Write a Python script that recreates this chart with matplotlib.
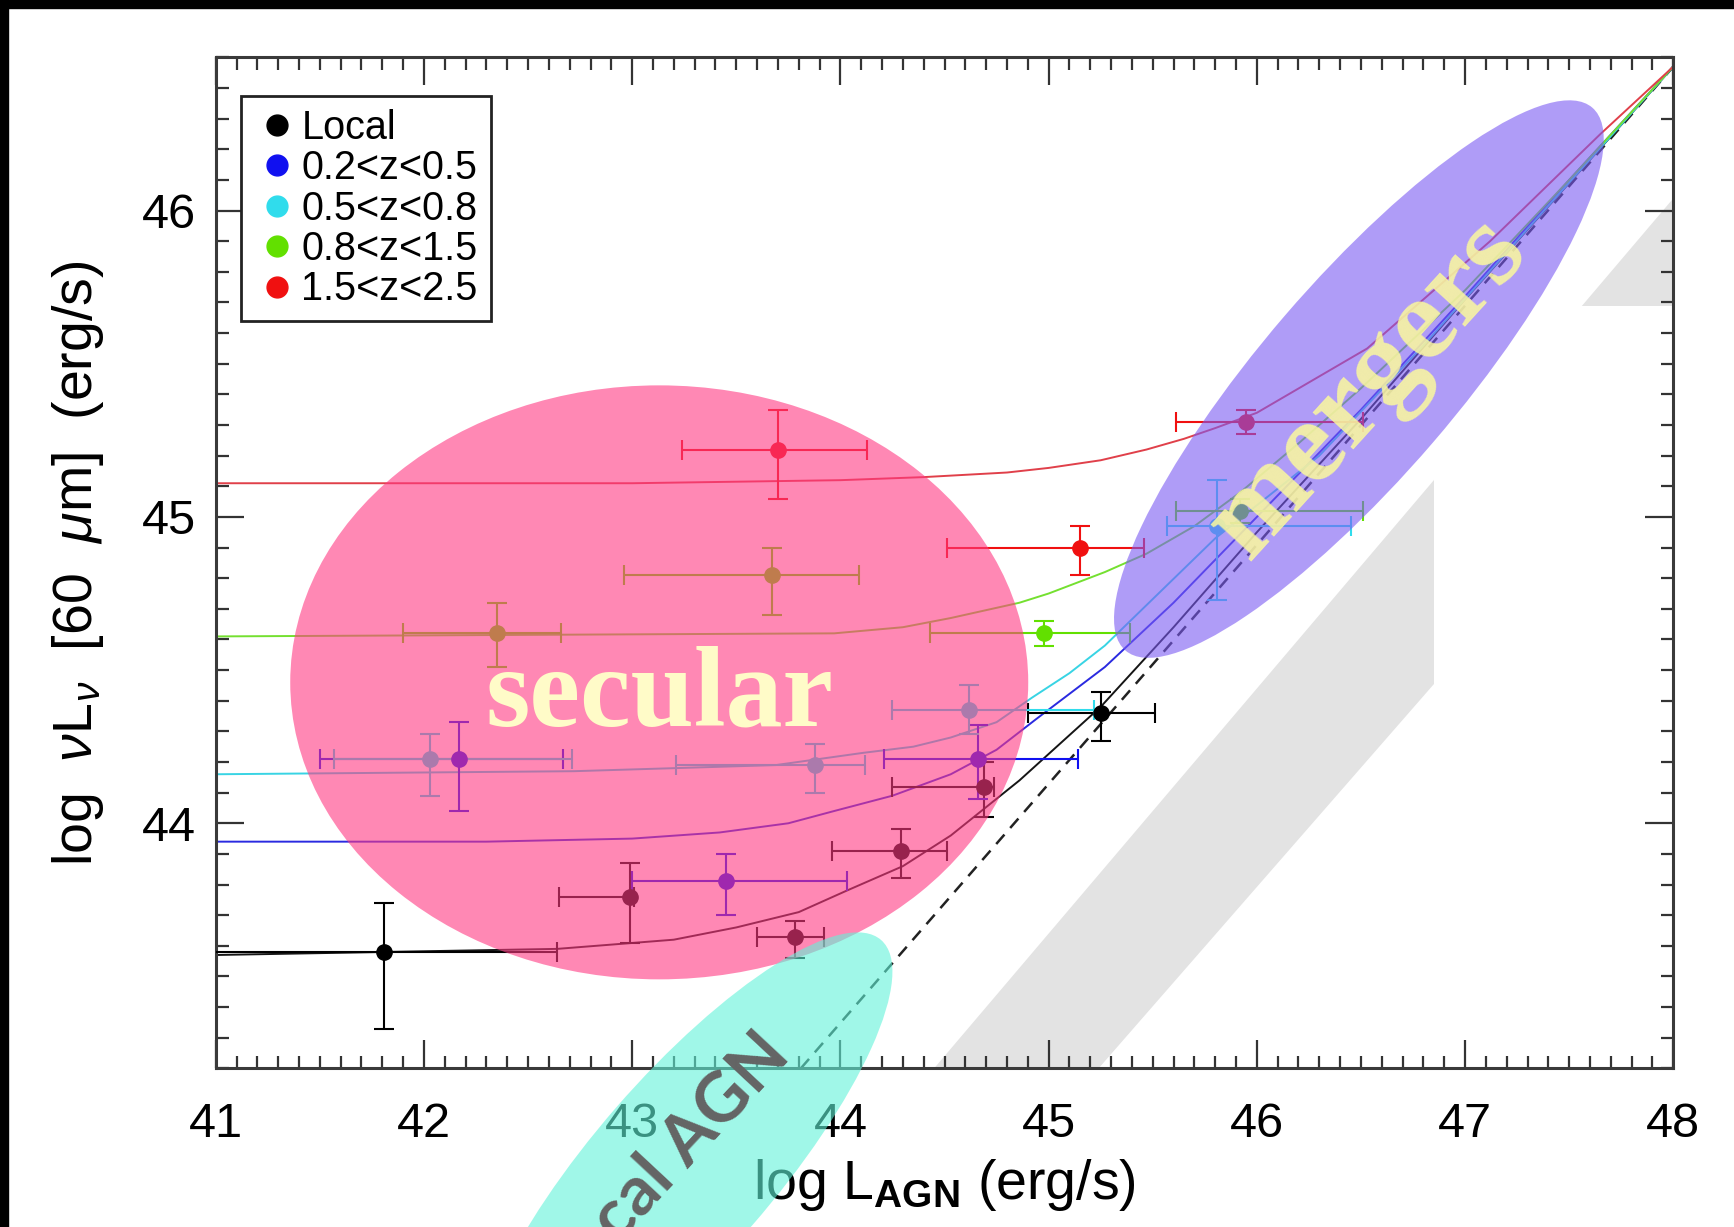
import matplotlib
matplotlib.use('Agg')
import matplotlib.pyplot as plt
import numpy as np
from matplotlib.patches import Ellipse, Polygon, Rectangle
from matplotlib.lines import Line2D
from matplotlib.transforms import ScaledTranslation
from matplotlib.ticker import MultipleLocator

plt.rcParams['font.family'] = ['Liberation Sans', 'DejaVu Sans']
plt.rcParams['mathtext.fontset'] = 'custom'
plt.rcParams['mathtext.rm'] = 'Liberation Sans'
plt.rcParams['mathtext.it'] = 'Liberation Sans:italic'
plt.rcParams['mathtext.bf'] = 'Liberation Sans:bold'

# --- data ---------------------------------------------------------------
labels = ['Local', '0.2<z<0.5', '0.5<z<0.8', '0.8<z<1.5', '1.5<z<2.5']
colors = ['#000000', '#1010f0', '#30dcec', '#62e000', '#f01010']
curve_colors = ['#151515', '#2a2ae0', '#38d4e4', '#74e030', '#e0404a']

# points: x, y and the ends of the error bars
local_x = [41.81, 42.99, 43.78, 44.29, 44.69, 45.25]
local_y = [43.58, 43.76, 43.63, 43.91, 44.12, 44.36]
local_xlo = [40.80, 42.65, 43.60, 43.96, 44.25, 44.90]
local_xhi = [42.64, 43.01, 43.92, 44.51, 44.74, 45.51]
local_ylo = [43.33, 43.61, 43.56, 43.82, 44.02, 44.27]
local_yhi = [43.74, 43.87, 43.68, 43.98, 44.20, 44.43]

z1_x = [42.17, 43.45, 44.66]
z1_y = [44.21, 43.81, 44.21]
z1_xlo = [41.50, 43.00, 44.21]
z1_xhi = [42.67, 44.03, 45.14]
z1_ylo = [44.04, 43.70, 44.08]
z1_yhi = [44.33, 43.90, 44.32]

z2_x = [42.03, 43.88, 44.62, 45.81]
z2_y = [44.21, 44.19, 44.37, 44.97]
z2_xlo = [41.57, 43.21, 44.25, 45.57]
z2_xhi = [42.71, 44.12, 45.22, 46.45]
z2_ylo = [44.09, 44.10, 44.29, 44.73]
z2_yhi = [44.29, 44.26, 44.45, 45.12]

z3_x = [42.35, 43.67, 44.98, 45.92]
z3_y = [44.62, 44.81, 44.62, 45.02]
z3_xlo = [41.90, 42.96, 44.43, 45.61]
z3_xhi = [42.66, 44.09, 45.39, 46.51]
z3_ylo = [44.51, 44.68, 44.58, 44.98]
z3_yhi = [44.72, 44.90, 44.66, 45.06]

z4_x = [43.70, 45.15, 45.95]
z4_y = [45.22, 44.90, 45.31]
z4_xlo = [43.24, 44.51, 45.61]
z4_xhi = [44.13, 45.46, 46.51]
z4_ylo = [45.06, 44.81, 45.27]
z4_yhi = [45.35, 44.97, 45.35]

# model curves
local_cx = [41.0, 42.64, 43.2, 43.5, 43.8, 44.03, 44.3, 44.53, 44.86, 45.25, 45.6, 46.0, 46.5, 47.0, 47.5, 48.0]
local_cy = [43.57, 43.59, 43.62, 43.66, 43.71, 43.78, 43.86, 43.96, 44.14, 44.38, 44.64, 44.95, 45.32, 45.71, 46.09, 46.47]
z1_cx = [41.0, 42.3, 43.0, 43.42, 43.75, 43.97, 44.25, 44.53, 44.75, 44.94, 45.27, 45.6, 46.0, 46.5, 47.0, 47.5, 48.0]
z1_cy = [43.94, 43.94, 43.95, 43.97, 44.0, 44.04, 44.09, 44.16, 44.24, 44.34, 44.51, 44.72, 45.0, 45.35, 45.72, 46.1, 46.47]
z2_cx = [41.0, 42.72, 43.69, 44.11, 44.35, 44.53, 44.75, 44.92, 45.1, 45.27, 45.8, 46.3, 46.8, 47.3, 48.0]
z2_cy = [44.16, 44.17, 44.19, 44.23, 44.25, 44.28, 44.33, 44.41, 44.49, 44.58, 44.93, 45.2, 45.56, 45.94, 46.47]
z3_cx = [41.0, 43.97, 44.3, 44.53, 44.86, 45.0, 45.27, 45.47, 45.7, 45.92, 46.2, 46.5, 47.0, 47.5, 48.0]
z3_cy = [44.61, 44.62, 44.64, 44.67, 44.72, 44.75, 44.82, 44.88, 44.97, 45.08, 45.24, 45.42, 45.74, 46.1, 46.47]
z4_cx = [41.0, 43.0, 44.0, 44.4, 44.8, 45.0, 45.25, 45.47, 45.65, 45.8, 46.0, 46.53, 47.12, 47.65, 48.0]
z4_cy = [45.11, 45.11, 45.12, 45.13, 45.145, 45.16, 45.185, 45.22, 45.255, 45.29, 45.34, 45.55, 45.90, 46.25, 46.47]

# pure-AGN line and the grey band
agn_x = [43.81, 48.0]
agn_y = [43.2, 46.47]
band_x = [44.45, 48.0, 48.0, 45.24]
band_y = [43.2, 46.04, 45.35, 43.2]

pts = [(local_x, local_y, local_xlo, local_xhi, local_ylo, local_yhi),
       (z1_x, z1_y, z1_xlo, z1_xhi, z1_ylo, z1_yhi),
       (z2_x, z2_y, z2_xlo, z2_xhi, z2_ylo, z2_yhi),
       (z3_x, z3_y, z3_xlo, z3_xhi, z3_ylo, z3_yhi),
       (z4_x, z4_y, z4_xlo, z4_xhi, z4_ylo, z4_yhi)]
curves = [(local_cx, local_cy), (z1_cx, z1_cy), (z2_cx, z2_cy),
          (z3_cx, z3_cy), (z4_cx, z4_cy)]

# --- figure -------------------------------------------------------------
fig = plt.figure(figsize=(17.34, 12.27), dpi=100)
ax = fig.add_axes([0.1244, 0.1293, 0.8406, 0.8239])

ax.add_patch(Polygon(np.column_stack([band_x, band_y]), closed=True,
                     facecolor='#e3e3e3', edgecolor='none', zorder=0.5))
ax.add_patch(Rectangle((46.85, 43.0), 1.2, 2.69, facecolor='white',
                       edgecolor='none', zorder=0.6))

ax.plot(agn_x, agn_y, color='#222222', lw=1.8, dashes=(5, 3.5), zorder=2)

for (cx, cy), c in zip(curves, curve_colors):
    ax.plot(cx, cy, color=c, lw=1.4, zorder=2)

for (x, y, xlo, xhi, ylo, yhi), c in zip(pts, colors):
    x, y = np.array(x), np.array(y)
    ax.errorbar(x, y, xerr=[x - np.array(xlo), np.array(xhi) - x],
                yerr=[y - np.array(ylo), np.array(yhi) - y],
                fmt='o', color=c, ms=11, elinewidth=1.5, capsize=7,
                capthick=1.5, zorder=3)

ax.set_xlim(41, 48)
ax.set_ylim(43.2, 46.5)
ax.xaxis.set_major_locator(MultipleLocator(1))
ax.xaxis.set_minor_locator(MultipleLocator(0.1))
ax.yaxis.set_major_locator(MultipleLocator(1))
ax.yaxis.set_minor_locator(MultipleLocator(0.1))
ax.tick_params(which='both', direction='in', top=True, right=True,
               color='#333333', width=1.6)
ax.tick_params(which='major', length=20, labelsize=35)
ax.tick_params(which='minor', length=9)
ax.tick_params(axis='x', which='major', pad=24)
ax.tick_params(axis='y', which='major', pad=14)
for s in ax.spines.values():
    s.set_linewidth(2.2)
    s.set_color('#3a3a3a')

ax.set_xlabel(r'log L$_{\mathbf{AGN}}$ (erg/s)', fontsize=40)
ax.set_ylabel(r'log  $\nu$L$_\nu$  [60  $\mu$m]  (erg/s)', fontsize=40)
ax.xaxis.set_label_coords(0.5, -0.088)
ax.yaxis.set_label_coords(-0.0755, 0.5)

handles = [Line2D([], [], marker='o', ls='', color=c, ms=15) for c in colors]
leg = ax.legend(handles, labels, loc='upper left', bbox_to_anchor=(0.0175, 0.962),
                borderaxespad=0, fancybox=False, edgecolor='#222222',
                fontsize=28.5, handlelength=1.17, handletextpad=0.02,
                labelspacing=0.06, borderpad=0.33, framealpha=1)
leg.get_frame().set_linewidth(2)


def blob(cx, cy, w, h, ang, color, alpha):
    # ellipse sized in pixels, centred on a data position
    tr = fig.dpi_scale_trans + ScaledTranslation(cx, cy, ax.transData)
    ax.add_patch(Ellipse((0, 0), w / 100, h / 100, angle=ang, transform=tr,
                         facecolor=color, edgecolor='none', alpha=alpha,
                         clip_on=False, zorder=10))


blob(43.13, 44.46, 738, 594, 0, '#ff3982', 0.6)
blob(46.49, 45.45, 716, 195, 49.3, '#7b5af3', 0.6)
blob(43.25, 42.88, 600, 180, 49, '#61f3d9', 0.6)

ax.text(43.13, 44.32, 'secular', fontsize=82, fontweight='bold',
        family='Liberation Serif', color='#fffbc8', ha='center',
        va='baseline', zorder=11)
ax.text(46.54, 45.42, 'mergers', fontsize=86, fontweight='bold',
        family='Liberation Serif', color='#fcfa9c', alpha=0.85,
        rotation=47.7, rotation_mode='anchor', ha='center', va='center',
        zorder=11)
ax.text(43.766, 43.237, 'Local AGN', fontsize=50, family='Lato',
        fontweight='bold', color='#646464', rotation=47,
        rotation_mode='anchor', ha='right', va='baseline', zorder=11,
        clip_on=False)

# black strips along the top and left edge of the scan
fig.patches.append(Rectangle((0, 1 - 8 / 1227), 1, 8 / 1227,
                             transform=fig.transFigure, color='black'))
fig.patches.append(Rectangle((0, 0), 8 / 1734, 1,
                             transform=fig.transFigure, color='black'))

ax.set_xlim(41, 48)
ax.set_ylim(43.2, 46.5)
fig.savefig('out.png', dpi=100)
